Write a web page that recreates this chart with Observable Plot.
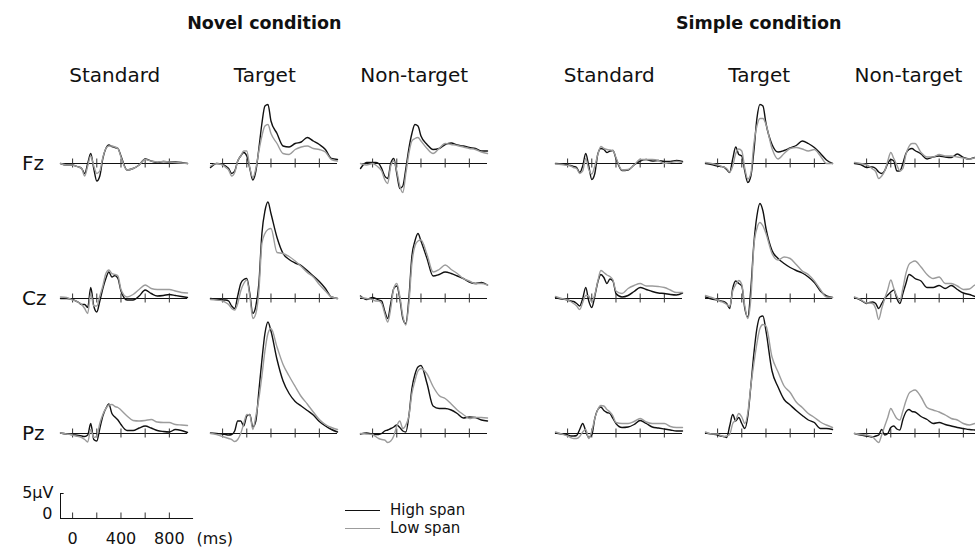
<!DOCTYPE html>
<html><head><meta charset="utf-8">
<script src="https://cdn.jsdelivr.net/npm/d3@7"></script>
<script src="https://cdn.jsdelivr.net/npm/@observablehq/plot@0.6"></script>
<style>
body{margin:0;background:#fff;}
#chart{position:relative;width:975px;height:547px;overflow:hidden;background:#fff;font-family:"DejaVu Sans",sans-serif;color:#111;}
.lbl{position:absolute;white-space:nowrap;line-height:1;transform:translate(-50%,-50%);}
.lft{position:absolute;white-space:nowrap;line-height:1;transform:translate(0,-50%);}
.leg{position:absolute;height:0;width:35px;}
</style></head><body><div id="chart"></div>
<script>
// ---------- data ----------
const conditions = ["Novel condition", "Simple condition"];
const stimTypes = ["Standard", "Target", "Non-target"];
const electrodes = ["Fz", "Cz", "Pz"];
const seriesNames = ["High span", "Low span"];
const timeTicks = [0, 200, 400, 600, 800];
const scaleTickLabels = [0, 400, 800];
// sampling times (ms)
const times = [-100,-50,0,25,50,75,100,125,150,175,200,225,250,275,300,325,350,375,400,450,500,550,600,650,700,750,800,850,900,950];

// amplitudes (µV)
const novelStdFzHigh = [0,-0.3,-0.3,-0.5,-0.7,-1.0,-2.0,0.0,2.0,-1.0,-3.5,-2.5,1.0,3.0,3.7,3.4,3.2,3.0,1.5,-1.3,-1.0,-0.3,0.9,0.5,0.2,0.4,0.3,0.3,0.2,0.0];
const novelStdFzLow  = [0,-0.3,-0.3,-0.5,-0.7,-1.0,-2.5,-0.5,1.5,-0.5,-2.0,-1.5,1.2,3.0,3.5,3.5,3.3,3.0,1.3,-1.3,-1.0,-0.3,0.8,0.5,0.3,0.4,0.3,0.2,0.1,0.0];
const novelTgtFzHigh = [-0.8,0.0,-0.2,-0.5,-1.0,-2.0,-1.5,0.5,1.5,2.2,1.5,-1.0,-3.3,-1.5,3.0,8.0,11.5,11.8,8.5,6.0,3.5,3.3,4.0,4.3,5.2,4.5,3.8,2.8,1.0,0.8];
const novelTgtFzLow  = [-0.5,0.0,-0.3,-0.8,-1.3,-2.5,-1.8,0.5,1.5,2.5,2.5,-0.8,-2.8,-1.0,2.5,5.5,7.5,7.8,6.0,4.0,2.0,1.8,2.8,3.3,3.5,3.0,2.8,2.3,0.8,0.5];
const novelNtgFzHigh = [-1.0,0.2,0.2,0.2,0.0,-1.0,-2.5,-3.0,0.0,1.0,-2.0,-5.0,-4.5,-1.0,3.0,6.0,7.8,7.5,5.5,3.8,2.8,3.0,3.8,4.1,3.7,3.5,3.2,3.0,2.5,2.5];
const novelNtgFzLow  = [0.0,-0.3,0.0,-0.3,-0.8,-1.5,-3.2,-4.0,-0.5,0.5,-1.5,-4.5,-5.8,-2.0,2.0,4.5,5.0,5.2,4.5,3.0,2.0,3.0,4.0,3.8,3.6,3.3,3.0,2.8,2.3,2.0];

const novelStdCzHigh = [0,0,-0.2,-0.5,-0.8,-1.2,-1.2,-1.8,2.2,-1.5,-2.7,-0.5,2.0,4.0,5.3,4.3,4.6,4.0,1.5,-0.3,-0.3,0.5,1.7,1.0,0.5,0.6,0.8,0.6,0.4,0.2];
const novelStdCzLow  = [0.3,0.2,-0.3,-0.5,-0.8,-1.2,-2.0,-3.0,1.0,-1.5,-1.5,0.5,2.5,5.0,5.7,5.0,4.8,4.5,1.8,0.3,0.8,1.8,2.7,2.0,1.8,1.8,1.8,1.5,1.2,1.1];
const novelTgtCzHigh = [0,-0.2,-0.3,-0.3,-0.5,-1.5,-2.0,0.5,3.0,3.8,4.0,1.0,-3.0,-1.5,3.0,13.0,17.5,19.3,17.0,12.2,9.0,7.8,7.1,6.6,5.6,4.5,3.4,2.0,0.3,0.0];
const novelTgtCzLow  = [-0.2,-0.3,-0.5,-0.8,-1.2,-2.0,-2.3,-1.0,1.5,3.0,3.7,0.5,-4.0,-3.0,1.5,11.0,13.0,13.8,14.0,9.2,9.0,8.4,7.5,6.4,5.2,4.3,2.8,1.5,0.3,0.0];
const novelNtgCzHigh = [0.5,-0.2,0.2,0.0,-0.3,-0.5,-2.5,-4.0,-1.0,2.0,2.5,0.0,-4.0,-5.0,0.0,8.5,11.5,13.0,11.5,8.0,4.5,4.8,5.3,5.0,4.5,4.0,3.3,3.0,3.2,2.7];
const novelNtgCzLow  = [0.3,0.0,-0.2,-0.5,-0.5,-1.0,-3.0,-4.7,-2.0,2.0,3.0,0.5,-3.5,-5.3,-1.0,7.0,10.5,11.5,11.7,8.8,5.3,5.8,6.7,5.8,5.0,4.0,3.5,3.0,3.0,2.7];

const novelStdPzHigh = [0.1,-0.1,-0.2,-0.3,-0.4,-0.5,-0.6,-0.3,2.0,-1.2,-1.5,1.0,3.5,5.0,5.9,4.0,3.3,2.7,1.8,0.6,0.6,1.1,1.5,1.1,0.6,0.4,0.3,0.8,0.6,0.2];
const novelStdPzLow  = [0.1,-0.1,-0.3,-0.5,-0.6,-0.8,-1.2,-1.7,0.8,-0.8,-0.5,2.0,3.8,5.0,5.7,5.8,5.4,5.2,4.7,3.5,2.6,2.5,2.6,2.8,2.3,2.2,2.2,1.8,1.7,1.6];
const novelTgtPzHigh = [0.1,0.0,-0.1,-0.2,-0.3,-0.2,0.5,2.5,2.5,1.5,3.5,3.8,1.3,2.5,8.5,14.7,20.0,22.3,20.5,14.8,10.5,8.0,6.4,5.5,4.6,3.7,2.4,1.5,0.8,0.3];
const novelTgtPzLow  = [0.0,-0.2,-0.6,-0.8,-1.0,-1.2,-1.6,-1.2,0.0,2.0,3.8,3.7,0.8,3.5,7.0,11.5,16.5,20.0,21.0,17.3,13.8,11.5,9.4,7.4,5.9,4.3,2.8,1.8,1.2,0.8];
const novelNtgPzHigh = [-0.1,0.1,-0.1,-0.2,-0.2,0.0,0.5,0.7,1.0,1.3,1.7,1.2,0.5,0.3,3.5,9.0,11.8,13.3,13.6,10.0,5.5,5.0,5.0,4.7,4.0,3.1,3.3,3.2,2.7,2.5];
const novelNtgPzLow  = [0.0,-0.1,-0.2,-0.6,-1.0,-1.2,-1.3,-1.8,-1.5,-0.5,1.5,2.5,1.0,1.7,3.5,8.0,10.5,12.5,13.0,11.9,9.4,7.6,7.0,5.9,4.7,3.8,3.0,3.2,3.2,3.1];

const simpleStdFzHigh = [0,-0.1,-0.3,-0.4,-0.6,-0.8,-1.8,-0.5,2.0,-0.5,-3.2,-2.0,1.9,3.0,2.8,2.2,2.5,2.6,1.0,-1.4,-1.3,-0.3,0.5,0.8,0.5,0.6,0.4,0.4,0.6,0.4];
const simpleStdFzLow  = [-0.1,-0.2,-0.4,-0.5,-0.8,-1.0,-2.0,-1.5,1.0,-1.2,-2.1,-0.5,1.8,3.4,3.0,2.8,2.7,2.6,1.2,-1.3,-1.2,-0.3,0.8,0.8,0.8,0.6,0.0,0.2,0.4,0.2];
const simpleTgtFzHigh = [0,-0.2,-0.5,-0.6,-0.7,-1.2,-1.8,0.9,3.3,1.8,1.5,-1.5,-3.8,-2.5,2.5,9.0,11.8,11.5,8.0,3.8,2.3,2.6,3.1,3.6,4.5,4.0,3.2,2.0,0.7,0.0];
const simpleTgtFzLow  = [0.2,0,-0.3,-0.5,-0.7,-1.0,-1.7,-0.5,2.0,2.9,2.5,-1.0,-3.1,-2.0,4.0,7.5,9.0,9.0,7.8,3.0,0.9,2.0,3.0,3.2,2.9,2.5,2.8,1.5,0.0,0.0];
const simpleNtgFzHigh = [0,-0.2,-0.8,-0.7,-0.7,-1.0,-1.7,-2.0,-1.4,0.0,0.8,0.5,-1.5,-1.5,0.0,2.0,2.8,3.0,2.6,1.9,0.9,1.3,1.5,1.3,1.2,1.9,1.2,0.9,1.2,1.0];
const simpleNtgFzLow  = [0.2,0,-0.3,-0.6,-1.1,-1.6,-3.0,-2.5,-1.5,0.5,2.2,1.0,-0.3,-1.5,-1.0,1.8,3.4,4.0,4.0,2.2,1.3,1.3,1.8,1.5,1.5,1.3,1.1,0.9,1.2,1.5];

const simpleStdCzHigh = [0.2,-0.1,-0.3,-0.5,-0.6,-1.0,-1.5,0.0,2.2,-0.5,-1.8,0.5,3.3,4.8,4.2,3.0,3.9,3.5,1.0,0.3,0.6,1.4,2.2,1.8,1.4,1.1,1.0,0.8,0.7,1.1];
const simpleStdCzLow  = [0.4,0.0,-0.3,-0.6,-1.0,-1.5,-2.2,-0.8,0.6,0.5,-0.7,0.8,3.5,5.6,5.2,4.7,4.4,3.7,1.5,1.0,2.0,2.6,3.0,2.5,2.5,2.4,2.2,1.7,1.2,1.2];
const simpleTgtCzHigh = [0.3,-0.1,-0.3,-0.5,-0.6,-1.0,-2.0,2.0,3.5,3.0,2.5,-2.0,-3.7,2.0,11.0,16.5,19.0,17.5,14.0,9.6,8.0,7.0,6.2,5.6,5.1,4.3,3.2,1.5,0.5,0.2];
const simpleTgtCzLow  = [0.6,0.2,-0.3,-0.6,-0.8,-1.2,-1.6,1.5,2.8,3.6,2.8,-1.5,-4.0,0.0,10.5,14.0,15.2,14.5,13.0,9.0,7.7,8.3,8.0,6.8,5.5,4.8,3.5,1.8,0.3,0.2];
const simpleNtgCzHigh = [0.2,-0.3,-1.0,-0.8,-0.7,-1.0,-2.0,-1.0,0.0,0.7,1.3,1.7,0.0,-1.0,1.0,3.0,4.8,4.5,4.0,3.5,2.2,2.2,2.6,2.0,2.6,1.8,1.1,0.8,0.4,0.3];
const simpleNtgCzLow  = [0.3,-0.2,-0.9,-0.9,-1.0,-2.0,-4.2,-2.0,0.0,1.8,3.7,2.0,0.5,-0.5,2.0,5.0,6.8,7.3,7.5,6.3,4.8,4.0,4.3,3.0,3.0,2.5,1.8,1.9,2.7,2.7];

const simpleStdPzHigh = [0.1,-0.1,-0.3,-0.5,-0.5,-0.4,0.8,2.0,0.5,-0.8,-0.3,3.0,4.8,5.3,4.6,4.2,4.0,3.0,2.0,1.2,1.3,1.8,2.6,2.0,1.3,1.1,0.9,0.7,0.5,0.5];
const simpleStdPzLow  = [0.3,-0.1,-0.5,-0.8,-1.0,-1.0,-0.6,0.3,0.8,-1.0,0.5,3.0,4.8,5.6,5.5,4.8,4.3,3.5,2.2,2.0,2.0,2.4,3.0,2.3,2.0,2.0,2.0,1.4,1.2,1.2];
const simpleTgtPzHigh = [0.1,-0.1,-0.3,-0.5,-0.6,-0.8,1.5,3.8,2.5,3.2,2.0,1.0,3.5,9.5,16.0,21.0,23.3,23.5,20.5,12.5,9.3,6.8,5.7,4.6,3.6,2.7,2.2,1.0,1.0,0.8];
const simpleTgtPzLow  = [0.3,-0.1,-0.1,-0.4,-0.6,-0.5,-0.2,2.0,2.7,4.0,3.3,2.0,4.2,9.5,14.0,18.0,21.0,21.8,21.5,15.3,12.3,9.5,8.2,6.3,5.2,4.0,3.2,2.3,1.7,1.2];
const simpleNtgPzHigh = [0,-0.3,-0.5,-0.6,-0.7,-0.5,-0.3,0.8,-0.3,0.0,1.2,1.5,0.9,0.7,2.8,4.3,4.8,4.4,4.3,3.4,2.8,2.0,2.2,1.8,1.5,1.2,1.0,0.8,0.7,0.6];
const simpleNtgPzLow  = [0,-0.2,-0.3,-0.5,-0.7,-1.3,-1.8,-0.3,1.5,3.2,5.0,4.0,3.0,2.7,4.5,6.5,8.0,8.5,8.7,7.3,5.2,4.7,4.3,3.7,3.0,2.7,2.0,1.7,2.0,2.0];

const waves = {
  novel: [
    [[novelStdFzHigh, novelStdFzLow], [novelTgtFzHigh, novelTgtFzLow], [novelNtgFzHigh, novelNtgFzLow]],
    [[novelStdCzHigh, novelStdCzLow], [novelTgtCzHigh, novelTgtCzLow], [novelNtgCzHigh, novelNtgCzLow]],
    [[novelStdPzHigh, novelStdPzLow], [novelTgtPzHigh, novelTgtPzLow], [novelNtgPzHigh, novelNtgPzLow]]
  ],
  simple: [
    [[simpleStdFzHigh, simpleStdFzLow], [simpleTgtFzHigh, simpleTgtFzLow], [simpleNtgFzHigh, simpleNtgFzLow]],
    [[simpleStdCzHigh, simpleStdCzLow], [simpleTgtCzHigh, simpleTgtCzLow], [simpleNtgCzHigh, simpleNtgCzLow]],
    [[simpleStdPzHigh, simpleStdPzLow], [simpleTgtPzHigh, simpleTgtPzLow], [simpleNtgPzHigh, simpleNtgPzLow]]
  ]
};

// ---------- layout ----------
const chart = document.getElementById("chart");
const PXMS = 127 / 1050;          // px per ms
const PXUV = 5;                    // px per µV
const zeroX = {novel: [72.3, 222.3, 371.7], simple: [566.7, 716.7, 866]};
const baseY = [162.7, 298.3, 433.3];
const BLACK = "#111", GRAY = "#9c9c9c";

function addLabel(text, x, y, css, cls = "lbl") {
  const d = document.createElement("div");
  d.className = cls; d.textContent = text;
  d.style.left = x + "px"; d.style.top = y + "px";
  Object.assign(d.style, css || {});
  chart.appendChild(d);
}

function panel(high, low) {
  return Plot.plot({
    width: 131, height: 175,
    marginLeft: 2, marginRight: 2, marginTop: 0, marginBottom: 0,
    x: {domain: [-100, 950], axis: null},
    y: {domain: [-10, 25], axis: null},
    style: {background: "transparent", overflow: "visible"},
    marks: [
      Plot.ruleY([0], {stroke: "#111", strokeWidth: 1}),
      Plot.ruleX(timeTicks, {y1: -0.9, y2: 0.9, stroke: "#333", strokeWidth: 1}),
      Plot.lineY(high, {x: times, curve: "monotone-x", stroke: BLACK, strokeWidth: 1.4}),
      Plot.lineY(low, {x: times, curve: "monotone-x", stroke: GRAY, strokeWidth: 1.4})
    ]
  });
}

["novel", "simple"].forEach((cond, ci) => {
  for (let r = 0; r < 3; r++) {
    for (let c = 0; c < 3; c++) {
      const [hi, lo] = waves[cond][r][c];
      const svg = panel(hi, lo);
      svg.style.position = "absolute";
      svg.style.left = (zeroX[cond][c] - 2 - 100 * PXMS) + "px";
      svg.style.top = (baseY[r] - 25 * PXUV) + "px";
      chart.appendChild(svg);
    }
  }
  // titles
  addLabel(conditions[ci], zeroX[cond][1] + 42, 24, {fontSize: "17.5px", fontWeight: "bold"});
  stimTypes.forEach((s, c) => addLabel(s, zeroX[cond][c] + 42.5, 75, {fontSize: "20px"}));
});
electrodes.forEach((e, r) => addLabel(e, 22, baseY[r], {fontSize: "20px"}, "lft"));

// scale bar
const scale = Plot.plot({
  width: 137, height: 50,
  marginLeft: 2, marginRight: 137 - 2 - 1100 * PXMS, marginTop: 0, marginBottom: 0,
  x: {domain: [-100, 1000], axis: null},
  y: {domain: [-4, 6], axis: null},
  style: {background: "transparent", overflow: "visible", fontFamily: "'DejaVu Sans', sans-serif", fontSize: "16px", color: "#111"},
  marks: [
    Plot.ruleY([0], {stroke: "#111", strokeWidth: 1}),
    Plot.ruleX([-100], {y1: 0, y2: 5, stroke: "#111", strokeWidth: 1}),
    Plot.ruleY([5], {x1: -100, x2: -70, stroke: "#111", strokeWidth: 1}),
    Plot.ruleX(timeTicks, {y1: 0, y2: 1.1, stroke: "#333", strokeWidth: 1}),
    Plot.text(scaleTickLabels, {x: d => d, y: -4, text: d => String(d), fontSize: 16, lineAnchor: "middle"}),
    Plot.text(["(ms)"], {x: 1000, y: -4, text: d => d, textAnchor: "start", dx: 3, fontSize: 16, lineAnchor: "middle"}),
    Plot.text(["5μV"], {x: -100, y: 5.2, text: d => d, textAnchor: "end", dx: -7, fontSize: 16, lineAnchor: "middle"}),
    Plot.text(["0"], {x: -100, y: 0.9, text: d => d, textAnchor: "end", dx: -8, fontSize: 16, lineAnchor: "middle"})
  ]
});
scale.style.position = "absolute";
scale.style.left = (72.3 - 2 - 100 * PXMS) + "px";
scale.style.top = (518 - 30) + "px";
chart.appendChild(scale);

// legend
[[BLACK, 511], [GRAY, 529]].forEach(([col, y], i) => {
  const l = document.createElement("div");
  l.className = "leg";
  l.style.left = "345px"; l.style.top = (y - 0.7) + "px";
  l.style.borderTop = "1.4px solid " + col;
  chart.appendChild(l);
  addLabel(seriesNames[i], 390, y, {fontSize: "15px", lineHeight: "0.9"}, "lft");
});
</script></body></html>
